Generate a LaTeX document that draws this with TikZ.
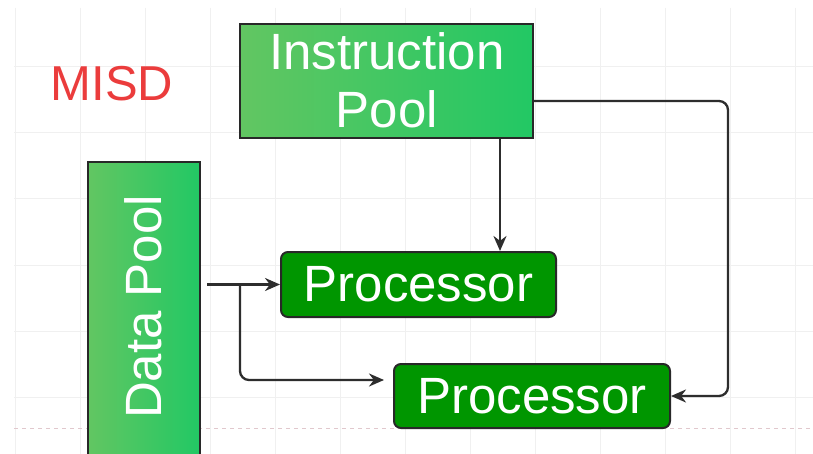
\documentclass[tikz,border=0pt]{standalone}
\usepackage{fontspec}
\setmainfont{Liberation Sans}
\usetikzlibrary{arrows.meta,calc}
\definecolor{gridc}{RGB}{240,240,240}
\definecolor{dashc}{RGB}{225,200,205}
\definecolor{gleft}{RGB}{98,198,98}
\definecolor{gright}{RGB}{34,200,100}
\definecolor{procg}{RGB}{0,150,0}
\definecolor{edgec}{RGB}{40,40,40}
\definecolor{misdred}{RGB}{235,60,60}
\definecolor{linec}{RGB}{45,45,45}
\tikzset{
  poolbox/.style={draw=edgec, line width=2pt, left color=gleft, right color=gright, inner sep=0pt},
  procbox/.style={draw=edgec, line width=2pt, fill=procg, rounded corners=7pt, inner sep=0pt,
    text=white, font=\fontsize{51}{58}\selectfont},
  bigtxt/.style={text=white, font=\fontsize{51}{58}\selectfont, inner sep=0pt},
  conn/.style={draw=linec, line width=2.3pt, rounded corners=9pt, -{Stealth[length=15pt,width=13pt]}}
}
\begin{document}
\begin{tikzpicture}[x=1pt,y=-1pt]
\useasboundingbox (0,0) rectangle (813,454);
\fill[white] (0,0) rectangle (813,454);
% grid
\foreach \gx in {15,80,...,800} \draw[gridc, line width=1pt] (\gx,8) -- (\gx,454);
\foreach \gy in {67,133,199,265,331,397} \draw[gridc, line width=1pt] (14,\gy) -- (813,\gy);
\draw[dashc, line width=1pt, dash pattern=on 4pt off 4pt] (14,428) -- (813,428);
% title
\node[text=misdred, font=\fontsize{49}{56}\selectfont, inner sep=0pt] (misd) at (112,84) {MISD};
% boxes
\node[poolbox, minimum width=293pt, minimum height=114pt] (ip) at (386.5,81) {};
\node[bigtxt, align=center] (iptxt) at (387,80) {Instruction\\Pool};
\node[poolbox, minimum width=112pt, minimum height=300pt] (dp) at (144,312) {};
\node[bigtxt, rotate=90] (dptxt) at (143,307) {Data Pool};
\node[procbox, minimum width=275pt, minimum height=65pt] (p1) at (418.5,284.5) {Processor};
\node[procbox, minimum width=276pt, minimum height=64pt] (p2) at (532,396) {Processor};
% connectors
\coordinate (ds) at (207,284.5);
\coordinate (br) at (240,284.5);
\coordinate (p2in) at (384,380);
\draw[conn] (ip.south -| 500,0) -- (p1.north -| 500,0);
\draw[conn] (ip.east |- 0,101) -| ([xshift=57pt]p2.east) -- (p2.east);
\draw[conn] (ds) -- (p1.west);
\draw[conn] (br) |- (p2in);
\end{tikzpicture}
\end{document}
